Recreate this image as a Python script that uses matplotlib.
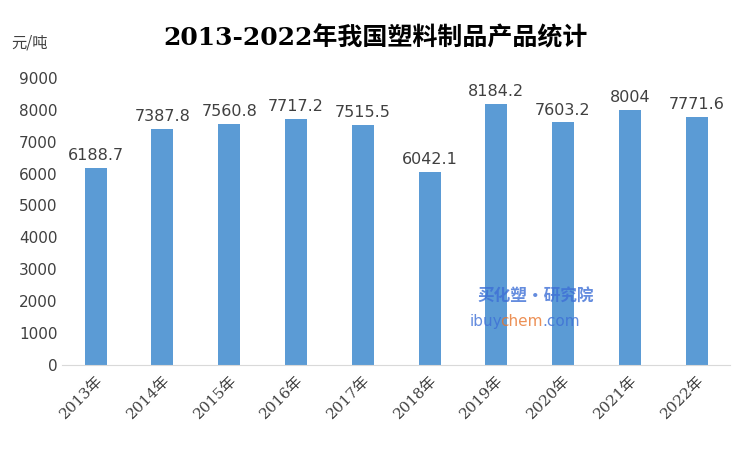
import matplotlib
matplotlib.use("Agg")
import matplotlib.pyplot as plt

years = ["2013年", "2014年", "2015年", "2016年", "2017年",
         "2018年", "2019年", "2020年", "2021年", "2022年"]
values = [6188.7, 7387.8, 7560.8, 7717.2, 7515.5,
          6042.1, 8184.2, 7603.2, 8004, 7771.6]
labels = ["6188.7", "7387.8", "7560.8", "7717.2", "7515.5",
          "6042.1", "8184.2", "7603.2", "8004", "7771.6"]

# serif digits, CJK falls back to Noto
plt.rcParams["font.family"] = ["DejaVu Serif", "Noto Sans CJK SC"]

fig = plt.figure(figsize=(7.51, 4.5), dpi=100)
ax = fig.add_axes([0.083, 0.189, 0.889, 0.638])

x = range(len(years))
ax.bar(x, values, width=0.33, color="#5b9bd5")
for i, (v, t) in enumerate(zip(values, labels)):
    ax.text(i, v + 150, t, ha="center", va="bottom", fontsize=11.5,
            color="#404040", fontfamily="DejaVu Sans")

ax.set_ylim(0, 9000)
ax.set_yticks(range(0, 9001, 1000))
ax.set_xlim(-0.5, len(years) - 0.5)
ax.set_xticks(list(x))
ax.set_xticklabels(years, rotation=45, ha="right", rotation_mode="anchor",
                   fontsize=11, color="#404040")
ax.tick_params(axis="x", length=0, pad=6)
ax.tick_params(axis="y", labelsize=11, colors="#404040", length=0,
               labelfontfamily="DejaVu Sans")
for s in ["top", "right", "left"]:
    ax.spines[s].set_visible(False)
ax.spines["bottom"].set_color("#d9d9d9")

fig.text(0.5, 0.915, "2013-2022年我国塑料制品产品统计", ha="center", va="center",
         fontsize=18, fontweight="bold")
fig.text(0.015, 0.895, "元/吨", fontsize=11, color="#404040", fontfamily="Noto Sans CJK SC")

# watermark
fig.text(0.635, 0.33, "买化塑·研究院", fontsize=12, fontweight="bold", style="italic",
         color="#3d6fd6", fontfamily="Noto Sans CJK SC", alpha=0.8)
fig.text(0.625, 0.275, "ibuy", fontsize=11, color="#3d6fd6", fontfamily="DejaVu Sans", alpha=0.8)
fig.text(0.666, 0.275, "chem", fontsize=11, color="#e8742b", fontfamily="DejaVu Sans", alpha=0.8)
fig.text(0.722, 0.275, ".com", fontsize=11, color="#3d6fd6", fontfamily="DejaVu Sans", alpha=0.8)

fig.savefig("out.png", dpi=100)
